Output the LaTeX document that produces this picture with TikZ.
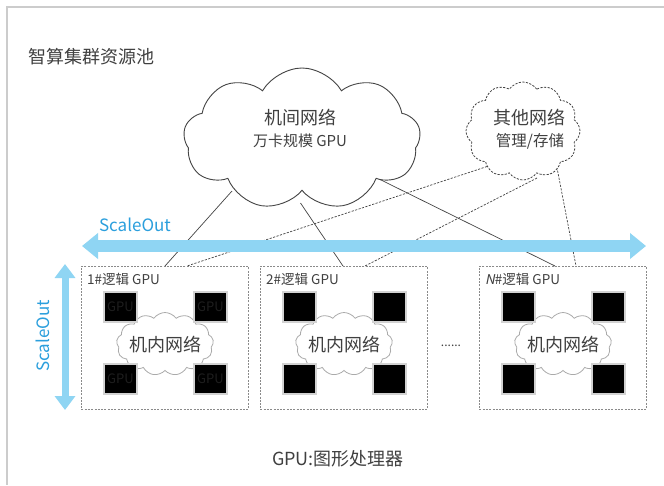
\documentclass[tikz,border=0pt]{standalone}
\usepackage{fontspec}
\setmainfont{Noto Sans CJK SC}
\newfontfamily\slantfont[FakeSlant=0.2]{Noto Sans CJK SC}
\usetikzlibrary{shapes.symbols,arrows.meta,calc}
\definecolor{txt}{HTML}{404040}
\definecolor{sky}{HTML}{8FD5F3}
\definecolor{skytxt}{HTML}{2B9FDD}
\definecolor{frameline}{HTML}{CCCCCC}
\definecolor{cloudline}{HTML}{444444}
\definecolor{incloudline}{HTML}{AAAAAA}
\definecolor{boxline}{HTML}{8A8A8A}
\definecolor{gpuedge}{HTML}{D2D2D2}
\definecolor{gputxt}{HTML}{1E1E1E}
\begin{document}
\begin{tikzpicture}[x=1pt,y=-1pt,
  every node/.style={text=txt, font=\fontsize{18}{20}\selectfont, inner sep=1pt},
  framest/.style={draw=frameline, line width=1.2pt},
  bigcloudst/.style={cloud, cloud puffs=9, cloud puff arc=120, aspect=1.7,
    draw=cloudline, fill=white, line width=0.9pt, minimum width=237pt, minimum height=142pt, inner sep=0pt},
  smallcloudst/.style={cloud, cloud puffs=12, cloud puff arc=110, aspect=1.15,
    draw=cloudline, fill=white, line width=0.8pt, dash pattern=on 2.2pt off 1.4pt,
    minimum width=114pt, minimum height=98pt, inner sep=0pt},
  incloud/.style={cloud, cloud puffs=13, cloud puff arc=110, aspect=1.5,
    draw=incloudline, fill=white, line width=0.8pt, minimum width=97pt, minimum height=63pt, inner sep=0pt},
  boxst/.style={draw=boxline, line width=0.7pt, dash pattern=on 2pt off 1.3pt,
    minimum width=167pt, minimum height=143pt, inner sep=0pt, anchor=north west},
  gpust/.style={draw=gpuedge, fill=black, line width=1.4pt, minimum width=33pt, minimum height=30pt,
    inner sep=0pt, text=gputxt, font=\fontsize{13}{14}\selectfont},
  solidlink/.style={draw=cloudline, line width=0.7pt},
  dashlink/.style={draw=cloudline, line width=0.7pt, dash pattern=on 2.2pt off 1.4pt},
  harrow/.style={draw=sky, line width=12pt, {Triangle[width=25pt,length=16pt]}-{Triangle[width=25pt,length=16pt]}},
  varrow/.style={draw=sky, line width=7pt, {Triangle[width=20pt,length=14pt]}-{Triangle[width=20pt,length=14pt]}},
  scaletxt/.style={text=skytxt, font=\fontsize{17}{19}\selectfont}
]
\useasboundingbox (0,0) rectangle (664,485);
\fill[white] (0,0) rectangle (664,485);
\draw[framest] (664,7) -- (7,7) -- (7,485);

\node[anchor=west] (title) at (27,57) {智算集群资源池};

% boxes
\node[boxst] (box1) at (81,266) {};
\node[boxst] (box2) at (260,266) {};
\node[boxst] (box3) at (479,266) {};

\foreach \bx/\lbl/\gt in {1/{1\#逻辑 GPU}/GPU, 2/{2\#逻辑 GPU}/{}, 3/{{\slantfont N}\#逻辑 GPU}/{}}{
  \node[anchor=west, font=\fontsize{13.5}{15}\selectfont] (lbl\bx) at ($(box\bx.north west)+(5,13)$) {\lbl};
  \node[incloud] (ic\bx) at ($(box\bx.north west)+(84,78)$) {};
  \node (ict\bx) at ($(box\bx.north west)+(84,79)$) {机内网络};
  \node[gpust] (g\bx a) at ($(box\bx.north west)+(39.5,41)$) {\gt};
  \node[gpust] (g\bx b) at ($(box\bx.north west)+(129.5,41)$) {\gt};
  \node[gpust] (g\bx c) at ($(box\bx.north west)+(39.5,113)$) {\gt};
  \node[gpust] (g\bx d) at ($(box\bx.north west)+(129.5,113)$) {\gt};
}

\node[font=\fontsize{12}{13}\selectfont] (dots) at (451,346) {......};

% link start points (inside clouds)
\coordinate (s1) at (232,191);
\coordinate (s2) at (300.5,203);
\coordinate (s3) at (378,178.5);
\coordinate (t1) at (487,166.5);
\coordinate (t2) at (537,178);
\coordinate (t3) at (555.5,160);

\draw[solidlink] (s1) -- ($(box1.north west)+(84,0)$);
\draw[solidlink] (s2) -- ($(box2.north west)+(83,0)$);
\draw[solidlink] (s3) -- ($(box3.north west)+(76,0)$);
\draw[dashlink] (t1) -- ($(box1.north west)+(106,0)$);
\draw[dashlink] (t2) -- ($(box2.north west)+(105,0)$);
\draw[dashlink] (t3) -- ($(box3.north west)+(97,0)$);

% clouds
\node[bigcloudst] (netA) at (302,139) {};
\node (netAt1) at (300,118) {机间网络};
\node[font=\fontsize{15}{17}\selectfont] (netAt2) at (300,141) {万卡规模 GPU};

\node[smallcloudst] (netB) at (523,131) {};
\node (netBt1) at (529,118) {其他网络};
\node[font=\fontsize{15.5}{17}\selectfont] (netBt2) at (530,141) {管理/存储};

% ScaleOut arrows
\coordinate (hl) at (82,246);
\coordinate (hr) at (646,246);
\draw[harrow] (hl) -- (hr);
\node[scaletxt] (so1) at (135,225) {ScaleOut};

\coordinate (vt) at (65,264);
\coordinate (vb) at (65,410);
\draw[varrow] (vt) -- (vb);
\node[scaletxt, rotate=90] (so2) at (43,336) {ScaleOut};

\node (legend) at (338,459) {GPU:图形处理器};
\end{tikzpicture}
\end{document}
